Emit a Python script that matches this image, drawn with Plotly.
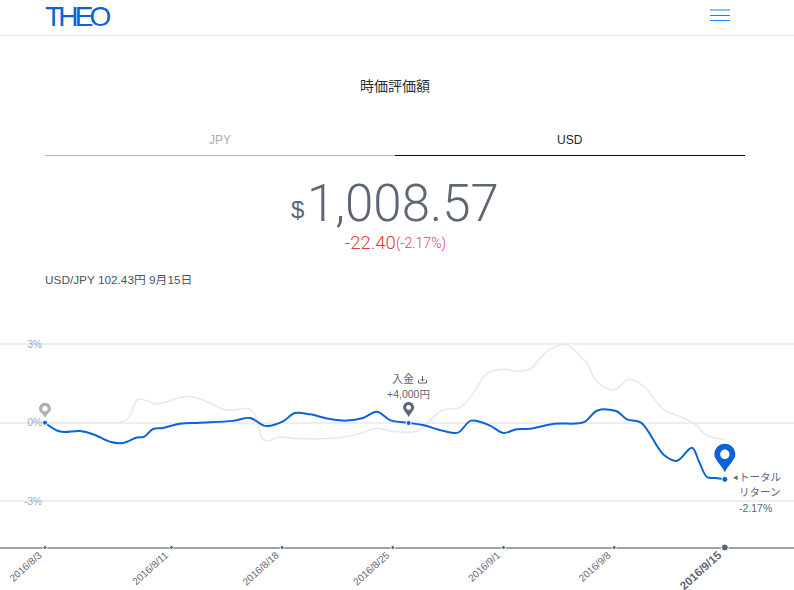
import pandas as pd
import plotly.graph_objects as go

W, H = 794, 590
BLUE = "#0a62dc"
SLATE = "#5f6673"
SANS = "Roboto, 'Noto Sans CJK JP', sans-serif"
JP = "'Liberation Sans', 'Noto Sans CJK JP', sans-serif"

# Portfolio return (%) and its benchmark, sampled by days since the start date
start = pd.Timestamp("2016-08-03")
return_days = [0, 0.95, 2.21, 3.04, 4.11, 4.93, 5.82, 6.26, 6.83, 7.46, 8.54, 9.8, 11.89, 12.97,
               13.79, 14.04, 15.05, 15.81, 16.76, 18.03, 19.1, 20.11, 21.0, 21.82, 23, 23.91,
               25.17, 26.12, 26.95, 28.15, 28.97, 29.85, 30.68, 32.2, 34.09, 34.91, 36.12, 36.81,
               37.7, 39.15, 39.97, 40.92, 41.37, 41.87, 42.4, 43]
return_pct = [0, -0.34, -0.32, -0.44, -0.73, -0.78, -0.57, -0.54, -0.24, -0.2, -0.04, 0, 0.07, 0.18,
              -0.1, -0.13, 0.05, 0.37, 0.32, 0.14, 0.08, 0.18, 0.42, 0.1, -0.01, -0.09,
              -0.31, -0.38, 0.08, -0.11, -0.39, -0.25, -0.23, -0.04, 0.02, 0.46, 0.45, 0.13,
              0, -1.24, -1.46, -0.96, -1.49, -2.08, -2.12, -2.17]
bench_days = [0, 2.4, 5.19, 5.88, 7.08, 8.98, 9.99, 11.51, 12.97, 13.41, 13.79, 14.1, 14.86, 15.94,
              18.85, 19.92, 21, 22.01, 23.53, 24.16, 25.17, 26.25, 27.01, 27.96, 28.97, 29.85,
              30.68, 30.8, 31.88, 32.83, 33.33, 33.97, 34.28, 34.85, 35.99, 36.94, 37.89, 39.15,
              40.29, 41.24, 41.81, 43]
bench_pct = [0, 0, 0.13, 0.9, 0.72, 1.01, 0.87, 0.48, 0.52, 0.1, -0.64, -0.69, -0.55, -0.61,
             -0.56, -0.41, -0.21, -0.34, -0.32, -0.02, 0.49, 0.59, 1.06, 1.89, 2.05, 1.98,
             2.05, 2.11, 2.79, 3.0, 2.87, 2.47, 2.29, 1.61, 1.25, 1.66, 1.38, 0.49,
             0.21, -0.11, -0.47, -0.65]
tick_dates = ["2016-08-03", "2016-08-11", "2016-08-18", "2016-08-25", "2016-09-01", "2016-09-08", "2016-09-15"]
tick_labels = ["2016/8/3", "2016/8/11", "2016/8/18", "2016/8/25", "2016/9/1", "2016/9/8",
               "<span style='font-size:11.5px;font-weight:bold'>2016/9/15</span>"]
event_dates = ["2016-08-03", "2016-08-26", "2016-09-15"]
event_pct = [0, -0.01, -2.17]
pct_ticks = [-3, 0, 3]
pct_labels = ["-3%", "0%", "3%"]


def days(values):
    return [start + pd.Timedelta(days=v) for v in values]


def px(x):
    return x / W


def py(y):
    return 1 - y / H


# Linear scales chosen so the plot fills the whole page
day_px = 15.81
x_range = [start - pd.Timedelta(days=45 / day_px), start + pd.Timedelta(days=(W - 45) / day_px)]
pct_px = 26.1
y_range = [(422.7 - H) / pct_px, 422.7 / pct_px]
AXIS_Y = 547.5
axis_pct = (422.7 - AXIS_Y) / pct_px

fig = go.Figure()
fig.add_trace(go.Scatter(x=days(bench_days), y=bench_pct, mode="lines",
                         line=dict(color="#e3e8f2", width=1.5, shape="spline", smoothing=1)))
fig.add_trace(go.Scatter(x=days(return_days), y=return_pct, mode="lines",
                         line=dict(color=BLUE, width=2, shape="spline", smoothing=1)))
fig.add_trace(go.Scatter(x=event_dates, y=event_pct, mode="markers",
                         marker=dict(color=BLUE, size=[5, 5, 6], opacity=1)))
fig.add_trace(go.Scatter(x=tick_dates, y=[axis_pct] * len(tick_dates), mode="markers", cliponaxis=False,
                         marker=dict(color=SLATE, size=[4, 4, 4, 4, 4, 4, 7], opacity=1)))


def text(x, y, s, size, color, anchor="center", family=JP, weight=None, angle=0):
    fig.add_annotation(xref="paper", yref="paper", x=px(x), y=py(y), text=s, showarrow=False,
                       xanchor=anchor, yanchor="middle", textangle=angle,
                       font=dict(size=size, color=color, family=family, weight=weight),
                       borderpad=0, borderwidth=0)


def hline(x0, x1, y, color, width):
    fig.add_shape(type="line", xref="paper", yref="paper", x0=px(x0), x1=px(x1), y0=py(y), y1=py(y),
                  line=dict(color=color, width=width))


def pin(date, pct, lift, half, height, color):
    """Map pin whose tip sits `lift` pixels above the anchored data point."""
    t, r = lift, half
    top = lift + height
    cy = top - r
    k = r * 0.55
    path = (f"M 0 {t} C {-r * 0.3} {t + height * 0.25} {-r} {cy - r * 0.55} {-r} {cy} "
            f"C {-r} {cy + k} {-k} {top} 0 {top} C {k} {top} {r} {cy + k} {r} {cy} "
            f"C {r} {cy - r * 0.55} {r * 0.3} {t + height * 0.25} 0 {t} Z")
    common = dict(xref="x", yref="y", xsizemode="pixel", ysizemode="pixel", xanchor=date, yanchor=pct)
    fig.add_shape(type="path", path=path, fillcolor=color, line=dict(width=0), **common)
    hole = r * 0.45
    fig.add_shape(type="circle", x0=-hole, x1=hole, y0=cy - hole, y1=cy + hole,
                  fillcolor="white", line=dict(width=0), **common)


# Page header
text(45, 16, "<span style='letter-spacing:-3.8px'>THEO</span>", 28, BLUE, "left")
for y in (10, 15.5, 20.5):
    hline(710, 730, y, "#0a84ff", 1)
hline(0, W, 35.5, "#e9e9e9", 1)
text(395, 86, "時価評価額", 14, "#2b3038")

# Currency tabs
text(220, 140, "JPY", 12, "#a9aeb7")
text(570, 140, "USD", 12, "#22262d")
hline(45, 395, 155.5, "#b0b2b8", 1.2)
hline(395, 745, 155.5, "#111111", 1.2)

# Valuation readout
text(297.5, 210, "$", 24, SLATE, family=JP)
text(403, 203, "1,008.57", 51, SLATE, family=SANS, weight=300)
text(345, 243, "-22.40", 18.5, "#dd3a3a", "left", family=SANS, weight=300)
text(396, 243.5, "(-2.17%)", 14, "#d93a7c", "left", family=SANS, weight=300)
text(45, 280, "USD/JPY 102.43円 9月15日", 11.8, "#4a5563", "left")

# Pins and their captions
pin(event_dates[0], event_pct[0], 5, 6, 15, "#abafb6")
pin(event_dates[1], event_pct[1], 6, 5.5, 15, SLATE)
pin(event_dates[2], event_pct[2], 7, 10.5, 28.5, BLUE)
text(403, 379, "入金", 11, SLATE)
text(408, 394.5, "+4,000円", 10.5, SLATE)
fig.add_shape(type="path", xref="paper", yref="paper",
              path=(f"M {px(418.5)} {py(380)} L {px(418.5)} {py(383)} L {px(426.5)} {py(383)} L {px(426.5)} {py(380)} "
                    f"M {px(422.5)} {py(376)} L {px(422.5)} {py(381)} M {px(420.5)} {py(379)} L {px(422.5)} {py(381)} L {px(424.5)} {py(379)}"),
              line=dict(color=SLATE, width=1))
text(733, 477, "◂", 9, SLATE, "left")
text(739, 477, "トータル", 10.5, SLATE, "left")
text(739, 492, "リターン", 10.5, SLATE, "left")
text(739, 507.5, "-2.17%", 10.5, SLATE, "left")

fig.update_layout(
    width=W, height=H, autosize=False, margin=dict(l=0, r=0, t=0, b=0), showlegend=False,
    plot_bgcolor="white", paper_bgcolor="white",
    xaxis=dict(type="date", range=x_range, domain=[0, 1], anchor="free", position=py(AXIS_Y), showgrid=False,
               automargin=False, layer="below traces",
               showline=True, linecolor="#9fa1a9", linewidth=2, zeroline=False,
               tickmode="array", tickvals=tick_dates, ticktext=tick_labels, tickangle=-42,
               ticks="", ticklabelshift=-6, ticklabelstandoff=-3,
               tickfont=dict(size=10, color=SLATE, family="Liberation Sans")),
    yaxis=dict(range=y_range, domain=[0, 1], anchor="free", position=px(42), showline=False, zeroline=False,
               automargin=False,
               tickmode="array", tickvals=pct_ticks, ticktext=pct_labels, showgrid=True, gridcolor="#eceef2", gridwidth=1.5,
               ticks="", tickfont=dict(size=10, color="#a2a7b0", family="Liberation Sans")),
)

fig.write_html("out.html")
